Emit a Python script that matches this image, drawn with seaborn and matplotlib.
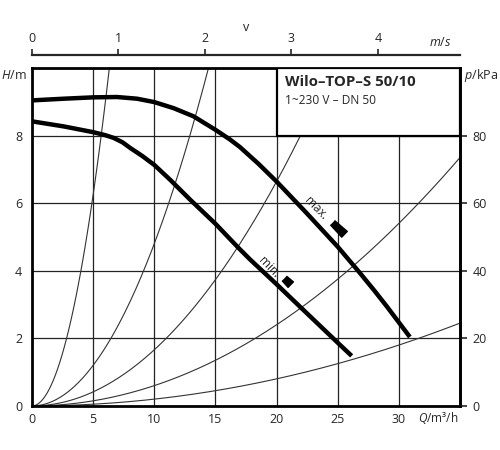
import numpy as np
import pandas as pd
import matplotlib
matplotlib.use("Agg")
import matplotlib.pyplot as plt
import seaborn as sns
from matplotlib.markers import MarkerStyle
from matplotlib.transforms import Affine2D
from matplotlib.patches import Rectangle

# ---------------- data ----------------
q_max = [0, 2.6, 5, 6.95, 8.59, 10, 11.58, 13.2, 15, 16.2, 17.0, 18.5, 20, 22.47, 25, 26.8, 28.0, 29.0, 30.9]
h_max = [9.04, 9.09, 9.13, 9.14, 9.09, 8.99, 8.81, 8.57, 8.17, 7.88, 7.66, 7.17, 6.64, 5.70, 4.71, 3.94, 3.41, 2.95, 2.04]

q_min = [0, 2.6, 5, 6.0, 6.68, 7.4, 8.04, 9.0, 10, 11.3, 12.94, 15, 16.9, 17.84, 20, 21.9, 25, 26.14]
h_min = [8.42, 8.27, 8.10, 8.01, 7.93, 7.80, 7.63, 7.40, 7.13, 6.69, 6.10, 5.39, 4.67, 4.33, 3.60, 2.94, 1.87, 1.48]

# system (pipe resistance) curves H = k * Q^2
system_k = [0.25, 0.048, 0.0166, 0.006, 0.002]

x_ticks = [0, 5, 10, 15, 20, 25, 30]
y_ticks = [0, 2, 4, 6, 8]
p_ticks = [0, 20, 40, 60, 80]
v_ticks = [0, 1, 2, 3, 4]
q_per_v = 7.07          # m3/h per 1 m/s for DN 50
kpa_per_m = 10.0

title = "Wilo–TOP–S 50/10"
subtitle = "1~230 V – DN 50"
curve_labels = ["max.", "min."]
label_q = [23.2, 19.38]
label_h = [5.84, 4.10]
icon_q = [25.05, 20.86]
icon_h = [5.26, 3.71]

# ---------------- style ----------------
sns.set_style("white")
plt.rcParams["font.family"] = ["Open Sans", "DejaVu Sans"]
plt.rcParams["mathtext.fontset"] = "custom"
plt.rcParams["mathtext.it"] = "Open Sans:italic"
plt.rcParams["mathtext.rm"] = "Open Sans"

fig = plt.figure(figsize=(5, 4.5), dpi=100)
ax = fig.add_axes([0.064, 0.098, 0.856, 0.751])
ax.set_xlim(0, 35)
ax.set_ylim(0, 10)

# grid
for x in x_ticks[1:]:
    ax.axvline(x, color="#222222", lw=0.9, zorder=1)
for y in y_ticks[1:]:
    ax.axhline(y, color="#222222", lw=0.9, zorder=1)

# system curves
qq = np.linspace(0, 35, 400)
for k in system_k:
    df = pd.DataFrame({"Q": qq, "H": k * qq ** 2})
    df = df[df["H"] <= 10.5]
    sns.lineplot(data=df, x="Q", y="H", ax=ax, color="#333333", lw=0.8,
                 zorder=2, sort=False, estimator=None)

# pump curves
sns.lineplot(x=q_max, y=h_max, ax=ax, color="black", lw=3.2, zorder=3,
             sort=False, estimator=None, solid_capstyle="butt",
             solid_joinstyle="round")
sns.lineplot(x=q_min, y=h_min, ax=ax, color="black", lw=3.2, zorder=3,
             sort=False, estimator=None, solid_capstyle="butt",
             solid_joinstyle="round")

# title box
ax.add_patch(Rectangle((20, 8), 15, 2, facecolor="white", edgecolor="black",
                       lw=1.6, zorder=5))
ax.text(20.65, 9.58, title, fontsize=10.8, fontweight="bold", va="center",
        ha="left", zorder=6)
ax.text(20.65, 9.05, subtitle, fontsize=8.6, va="center", ha="left", zorder=6)

# curve labels and speed icons
for lab, lq, lh in zip(curve_labels, label_q, label_h):
    ax.text(lq, lh, lab, rotation=-46, ha="center", va="center",
            fontsize=8.5, zorder=6, rotation_mode="anchor")
big_icon = MarkerStyle([(-1, -0.36), (1, -0.48), (1, 0.48), (-1, 0.36)],
                       transform=Affine2D().rotate_deg(-44))
small_icon = MarkerStyle([(-1, -0.7), (1, -0.85), (1, 0.85), (-1, 0.7)],
                         transform=Affine2D().rotate_deg(-44))
ax.plot(icon_q[:1], icon_h[:1], marker=big_icon, color="black", ms=12,
        zorder=6, ls="none")
ax.plot(icon_q[1:], icon_h[1:], marker=small_icon, color="black", ms=6.5,
        zorder=6, ls="none")

# spines and ticks
for s in ax.spines.values():
    s.set_linewidth(2.0)
    s.set_color("black")
ax.set_xticks(x_ticks)
ax.set_yticks(y_ticks)
ax.tick_params(axis="both", length=0, labelsize=9, pad=5)
ax.tick_params(axis="y", pad=7)
ax.set_xlabel("")
ax.set_ylabel("")

# right pressure axis
secy = ax.secondary_yaxis("right", functions=(lambda h: h * kpa_per_m,
                                              lambda p: p / kpa_per_m))
secy.set_yticks(p_ticks)
secy.tick_params(direction="out", length=5, width=1.2, labelsize=9, pad=4)
for s in secy.spines.values():
    s.set_linewidth(2.0)

# top velocity axis
secx = ax.secondary_xaxis(1.0 + 13 / 338, functions=(lambda q: q / q_per_v,
                                                      lambda v: v * q_per_v))
secx.set_xticks(v_ticks)
secx.tick_params(direction="out", length=4, width=1.2, labelsize=9, pad=3)
for s in secx.spines.values():
    s.set_linewidth(1.6)
secx.set_xlabel("v", fontsize=9, labelpad=1)

# axis unit labels
ax.text(-0.042, 0.979, "$H$/m", transform=ax.transAxes, ha="center",
        va="center", fontsize=9)
ax.text(1.05, 0.979, "$p$/kPa", transform=ax.transAxes, ha="center",
        va="center", fontsize=9)
ax.text(0.953, 1.074, "$m/s$", transform=ax.transAxes, ha="center",
        va="center", fontsize=9)
ax.text(0.949, -0.036, "$Q$/m³/h", transform=ax.transAxes, ha="center",
        va="center", fontsize=8.5)

fig.savefig("out.png", dpi=100)
